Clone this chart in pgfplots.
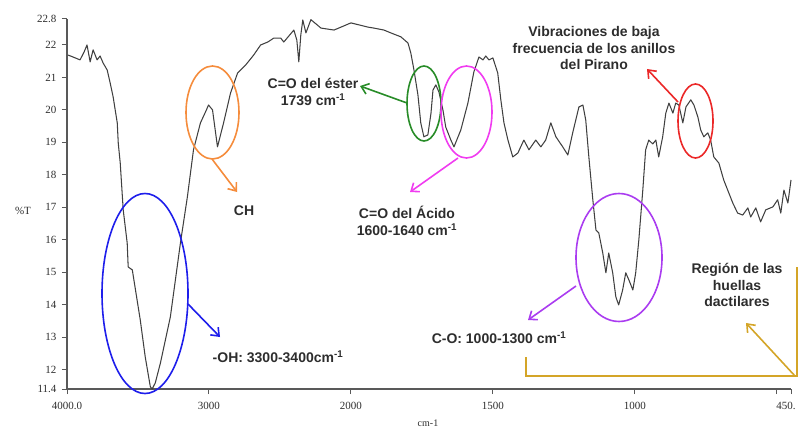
\documentclass[border=0pt]{standalone}
\usepackage{fontspec}
\setmainfont{Liberation Sans}
\newfontfamily\serif{Liberation Serif}
\usepackage{pgfplots}
\pgfplotsset{compat=1.18}
\usetikzlibrary{arrows.meta}
\definecolor{cblue}{RGB}{30,30,235}
\definecolor{corange}{RGB}{245,140,60}
\definecolor{cgreen}{RGB}{40,140,40}
\definecolor{cmag}{RGB}{240,60,240}
\definecolor{cred}{RGB}{235,40,40}
\definecolor{cpurp}{RGB}{170,60,240}
\definecolor{cgold}{RGB}{212,165,40}
\definecolor{txt}{RGB}{45,45,45}
\pgfplotstableread{
wn T
3993 21.69
3958 21.63
3908 21.54
3880 21.78
3859 22.00
3837 21.48
3816 21.85
3788 21.54
3767 21.66
3745 21.44
3717 21.23
3696 20.83
3675 20.40
3646 19.60
3639 18.98
3625 18.36
3604 16.92
3576 15.90
3569 15.16
3540 15.07
3484 13.53
3449 12.39
3413 11.47
3400 11.40
3378 11.59
3342 12.20
3272 13.62
3201 15.90
3152 17.32
3109 18.77
3060 19.60
3024 19.94
3003 20.15
2975 20.00
2940 18.86
2897 19.60
2848 20.52
2798 21.14
2742 21.38
2685 21.69
2636 22.00
2586 22.09
2544 22.21
2494 22.21
2473 22.09
2402 22.46
2381 22.15
2367 21.48
2353 22.31
2339 22.77
2317 22.37
2282 22.78
2211 22.52
2119 22.46
2070 22.55
2000 22.68
1940 22.55
1919 22.52
1884 22.46
1859 22.37
1824 22.25
1799 22.06
1789 21.75
1778 21.23
1764 20.46
1754 19.60
1743 19.17
1729 19.23
1718 19.90
1711 20.61
1701 20.77
1690 20.55
1676 20.00
1666 19.47
1648 19.07
1637 18.86
1613 19.38
1588 20.21
1567 21.17
1549 21.63
1535 21.54
1525 21.66
1514 21.54
1500 21.60
1483 21.14
1472 20.31
1461 19.60
1447 19.07
1430 18.55
1412 18.67
1391 19.07
1373 18.77
1349 19.07
1331 18.86
1314 19.07
1296 19.60
1278 19.17
1254 18.86
1236 18.61
1219 19.29
1197 20.09
1183 20.15
1173 19.69
1162 18.55
1148 17.23
1137 16.30
1127 16.21
1113 15.59
1102 14.98
1092 15.59
1078 14.98
1067 14.24
1057 13.99
1043 14.45
1032 14.98
1021 14.76
1007 14.45
997 14.98
986 15.99
972 17.53
962 18.77
951 19.07
937 18.95
926 19.07
916 18.55
902 19.17
891 19.90
880 20.21
866 19.90
856 20.21
845 20.15
831 19.60
820 20.09
803 20.31
792 20.15
778 19.78
768 19.38
757 19.17
743 19.29
733 19.07
722 18.55
704 18.36
687 17.84
669 17.44
655 17.13
638 16.82
620 16.76
602 16.98
592 16.70
574 16.98
557 16.55
539 16.92
514 17.01
497 17.23
486 16.82
475 17.53
461 17.13
450 17.84
}\spectrum
\begin{document}
\begin{tikzpicture}
\path[use as bounding box] (0,0) rectangle (799pt,437pt);
\begin{axis}[
  at={(67pt,48pt)}, anchor=south west,
  scale only axis, width=724pt, height=370pt,
  x coord trafo/.code={\pgfmathparse{#1<2000 ? 6000-2*#1 : 4000-#1}},
  xmin=4000, xmax=450, ymin=11.4, ymax=22.8,
  axis lines*=left,
  axis line style={draw=gray!70!black, line width=1.2pt},
  tick style={draw=gray!70!black, line width=1pt},
  tick align=outside, major tick length=5pt,
  xtick={4000,3000,2000,1500,1000,500},
  xticklabels={4000.0,3000,2000,1500,1000,},
  extra x ticks={450},
  extra x tick labels={450.},
  extra x tick style={xticklabel style={xshift=-5pt}},
  ytick={11.4,12,13,14,15,16,17,18,19,20,21,22,22.8},
  yticklabels={11.4,12,13,14,15,16,17,18,19,20,21,22,22.8},
  ticklabel style={font=\serif\fontsize{11}{11}\selectfont, text=txt},
  xticklabel style={yshift=-5pt},
  yticklabel style={xshift=-2pt},
  clip=false,
]
\addplot[draw=black!75, line width=1.05pt, line join=round] table[x=wn,y=T] {\spectrum};
\end{axis}
\begin{scope}[x=1pt, y=-1pt, shift={(0pt,437pt)}, line width=1.6pt,
  arr/.style={-{Straight Barb[length=7pt,width=11pt]}}]
  % labels
  \node[font=\serif\fontsize{11}{11}\selectfont, text=txt] at (23,211) {\%T};
  \node[font=\serif\fontsize{10}{10}\selectfont, text=txt] at (428,423) {cm-1};
  % ellipses
  \draw[cblue] (145,293.5) ellipse [x radius=43, y radius=100];
  \draw[corange] (212.5,112.5) ellipse [x radius=26.5, y radius=46.5];
  \draw[cgreen] (424,103.5) ellipse [x radius=17, y radius=37.5];
  \draw[cmag] (466.5,112) ellipse [x radius=25.5, y radius=46];
  \draw[cred] (695.5,121) ellipse [x radius=17.5, y radius=37];
  \draw[cpurp] (619,257.5) ellipse [x radius=43, y radius=64];
  % arrows
  \draw[cblue, arr] (188,304) -- (220,337);
  \draw[corange, arr] (212,159) -- (237,192);
  \draw[cgreen, arr] (407,103) -- (360,86);
  \draw[cmag, arr] (458,158) -- (410,192);
  \draw[cred, arr] (678,102) -- (647,69);
  \draw[cpurp, arr] (576,286) -- (528,320);
  \draw[cgold] (526,357) -- (526,376) -- (797,376) -- (797,267);
  \draw[cgold, arr] (795,376) -- (746,323);
  % texts
  \begin{scope}[every node/.style={font=\bfseries\fontsize{14}{16.5}\selectfont, text=txt, align=center, inner sep=0pt}]
  \node at (313,92) {C=O del éster\\1739 cm\textsuperscript{-1}};
  \node at (244,211) {CH};
  \node at (407,221) {C=O del Ácido\\1600-1640 cm\textsuperscript{-1}};
  \node at (278,357) {-OH: 3300-3400cm\textsuperscript{-1}};
  \node at (594,48) {Vibraciones de baja\\frecuencia de los anillos\\del Pirano};
  \node at (499,338) {C-O: 1000-1300 cm\textsuperscript{-1}};
  \node at (737,285) {Región de las\\huellas\\dactilares};
  \end{scope}
\end{scope}
\end{tikzpicture}
\end{document}
